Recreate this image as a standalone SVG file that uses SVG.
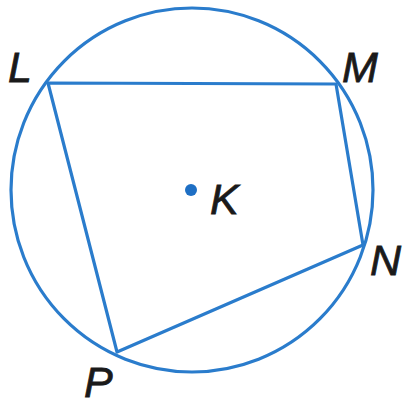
<svg xmlns="http://www.w3.org/2000/svg" width="412" height="407" viewBox="0 0 412 407">
<style>
.ln{fill:none;stroke:#2a7ccc;stroke-width:3.2;stroke-linejoin:round}
.lb{font-family:"Liberation Sans",Arial,sans-serif;font-style:italic;font-size:43px;fill:#1a1a1a;stroke:#1a1a1a;stroke-width:0.8}
</style>
<rect width="412" height="407" fill="#ffffff"/>
<ellipse class="ln" cx="192" cy="190" rx="181" ry="182"/>
<g id="connectors">
<polygon class="ln" points="48,83 336,84 363,245 117,352"/>
</g>
<g id="K"><circle cx="191" cy="190" r="6" fill="#1e6fc4"/><text class="lb" x="210" y="214">K</text></g>
<g id="L"><text class="lb" x="8" y="82">L</text></g>
<g id="M"><text class="lb" x="342" y="82">M</text></g>
<g id="N"><text class="lb" x="370" y="275">N</text></g>
<g id="P"><text class="lb" x="84" y="397">P</text></g>
</svg>
